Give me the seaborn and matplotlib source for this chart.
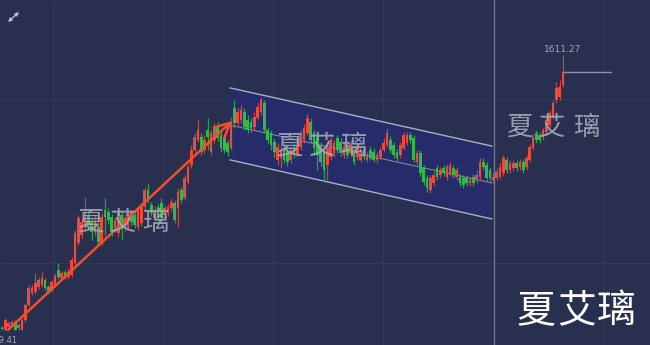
import matplotlib
matplotlib.use("Agg")
import matplotlib.pyplot as plt
import seaborn as sns
import numpy as np

# ---------------- data (price per candle) ----------------
opens = [1520.2, 1519.6, 1520.5, 1521.2, 1522.2, 1520.2, 1519.5, 1522.8, 1527.8, 1531.8,
         1532.2, 1533.8, 1534.5, 1536.2, 1533.8, 1532.8, 1534.5, 1539.5, 1536.8, 1538.8,
         1537.2, 1537.8, 1541.8, 1548.5, 1551.2, 1553.5, 1557.8, 1555.5, 1552.2, 1553.8,
         1548.5, 1559.5, 1558.8, 1557.2, 1553.5, 1551.8, 1557.8, 1553.5, 1553.8, 1558.5,
         1557.8, 1553.8, 1555.2, 1560.5, 1566.2, 1561.2, 1556.8, 1560.5, 1561.8, 1557.8,
         1558.5, 1560.2, 1561.8, 1560.2, 1566.2, 1563.5, 1568.8, 1574.5, 1579.5, 1582.8,
         1583.8, 1579.5, 1586.2, 1578.8, 1582.8, 1587.2, 1584.5, 1583.5, 1581.8, 1580.2,
         1593.5, 1588.5, 1589.5, 1592.2, 1589.5, 1588.8, 1587.2, 1590.2, 1592.2, 1595.2,
         1586.2, 1585.2, 1582.2, 1576.2, 1576.8, 1580.2, 1578.8, 1576.2, 1580.2, 1577.8,
         1580.5, 1582.8, 1585.2, 1588.8, 1585.2, 1583.5, 1581.2, 1578.8, 1574.5, 1577.2,
         1578.5, 1583.5, 1582.2, 1577.8, 1581.2, 1578.5, 1579.5, 1577.2, 1576.2, 1579.5,
         1576.2, 1579.5, 1578.8, 1576.2, 1577.2, 1579.5, 1581.2, 1582.8, 1581.2, 1578.8,
         1577.8, 1580.2, 1581.8, 1584.5, 1583.5, 1575.5, 1578.5, 1573.5, 1570.2, 1566.2,
         1568.5, 1573.5, 1571.2, 1573.5, 1570.5, 1571.8, 1573.5, 1570.5, 1570.5, 1570.2,
         1570.2, 1568.5, 1570.5, 1569.5, 1570.5, 1575.5, 1574.5, 1572.8, 1569.5, 1570.2,
         1570.5, 1571.8, 1576.2, 1572.8, 1573.5, 1575.2, 1573.8, 1575.5, 1573.8, 1576.2,
         1580.2, 1585.2, 1584.5, 1583.8, 1585.5, 1587.8, 1590.5, 1596.2, 1597.2, 1601.2]

closes = [1519.9, 1522.8, 1521.8, 1522.2, 1519.5, 1521.2, 1522.8, 1527.8, 1533.5, 1533.5,
          1535.2, 1536.2, 1536.8, 1533.5, 1532.2, 1535.5, 1537.5, 1537.2, 1538.5, 1537.2,
          1538.8, 1542.8, 1551.8, 1556.8, 1555.5, 1557.2, 1554.5, 1552.2, 1555.5, 1548.8,
          1557.2, 1557.2, 1556.2, 1552.2, 1556.2, 1558.5, 1553.5, 1556.8, 1557.8, 1555.5,
          1554.5, 1559.5, 1560.5, 1566.2, 1562.8, 1558.5, 1559.5, 1557.2, 1556.8, 1560.2,
          1560.5, 1562.2, 1556.2, 1565.5, 1562.8, 1570.2, 1573.8, 1579.5, 1583.8, 1586.2,
          1578.8, 1582.8, 1583.8, 1585.2, 1587.2, 1583.5, 1580.2, 1579.5, 1578.8, 1588.8,
          1588.5, 1592.2, 1592.8, 1587.2, 1586.2, 1586.8, 1590.5, 1593.8, 1596.2, 1586.2,
          1582.8, 1581.2, 1578.8, 1580.5, 1579.5, 1576.2, 1575.5, 1579.5, 1577.8, 1581.2,
          1584.5, 1586.8, 1590.2, 1582.8, 1580.2, 1577.8, 1575.5, 1572.8, 1580.2, 1582.8,
          1581.8, 1579.5, 1578.5, 1580.5, 1577.8, 1581.8, 1575.5, 1580.2, 1578.5, 1577.2,
          1577.8, 1576.8, 1576.2, 1577.8, 1579.5, 1581.8, 1585.2, 1579.5, 1577.8, 1576.8,
          1581.2, 1584.5, 1584.5, 1582.8, 1576.2, 1578.5, 1571.8, 1568.8, 1566.8, 1570.2,
          1571.2, 1570.5, 1572.8, 1571.8, 1573.8, 1574.5, 1571.2, 1572.8, 1568.5, 1567.8,
          1568.5, 1569.5, 1568.5, 1571.2, 1575.5, 1573.8, 1570.2, 1570.2, 1570.5, 1572.2,
          1573.8, 1576.8, 1572.8, 1575.2, 1575.2, 1573.5, 1575.5, 1572.8, 1576.8, 1580.5,
          1583.8, 1582.8, 1582.8, 1586.2, 1589.5, 1591.8, 1595.2, 1600.2, 1600.5, 1605.5]

highs = [1520.8, 1523.5, 1522.5, 1522.8, 1522.8, 1521.8, 1523.5, 1528.5, 1534.5, 1534.5,
         1538.5, 1537.2, 1538.8, 1536.8, 1534.5, 1536.2, 1538.5, 1541.8, 1539.2, 1539.5,
         1540.2, 1543.8, 1552.8, 1557.8, 1556.8, 1563.8, 1559.5, 1556.8, 1557.8, 1555.5,
         1558.5, 1563.5, 1560.2, 1558.2, 1557.2, 1559.5, 1558.8, 1558.2, 1558.8, 1559.5,
         1558.8, 1560.5, 1561.8, 1567.2, 1568.5, 1562.2, 1560.8, 1561.5, 1563.5, 1561.2,
         1561.5, 1563.5, 1562.8, 1566.8, 1567.2, 1571.2, 1574.8, 1581.2, 1585.2, 1589.5,
         1585.2, 1584.5, 1590.2, 1586.2, 1588.5, 1588.8, 1586.2, 1584.5, 1582.8, 1590.5,
         1596.2, 1593.5, 1594.5, 1593.5, 1591.2, 1590.2, 1592.2, 1595.2, 1597.2, 1596.2,
         1587.2, 1586.2, 1583.5, 1581.8, 1580.8, 1581.5, 1580.2, 1580.5, 1581.5, 1582.5,
         1586.2, 1588.2, 1591.5, 1590.2, 1586.2, 1584.5, 1582.2, 1580.2, 1581.2, 1583.8,
         1582.8, 1584.5, 1583.5, 1581.8, 1582.2, 1582.8, 1580.8, 1581.2, 1579.5, 1580.5,
         1578.8, 1580.8, 1580.2, 1578.8, 1580.5, 1583.5, 1586.8, 1584.2, 1582.2, 1579.8,
         1582.2, 1585.5, 1585.5, 1585.5, 1584.5, 1579.5, 1579.5, 1574.5, 1571.2, 1571.2,
         1572.2, 1574.5, 1573.8, 1574.5, 1574.8, 1575.5, 1574.5, 1573.8, 1571.5, 1571.2,
         1571.2, 1570.5, 1571.5, 1572.8, 1576.8, 1576.8, 1575.5, 1573.8, 1571.8, 1573.5,
         1575.2, 1577.8, 1577.2, 1576.2, 1576.2, 1576.2, 1576.5, 1576.5, 1577.8, 1581.5,
         1584.8, 1586.2, 1585.5, 1587.2, 1590.5, 1592.8, 1596.2, 1602.2, 1602.8, 1611.27]

lows = [1519.6, 1519.41, 1519.8, 1520.5, 1519.5, 1519.5, 1519.5, 1522.2, 1527.2, 1531.2,
        1531.5, 1533.2, 1533.8, 1532.8, 1531.5, 1532.2, 1533.8, 1536.5, 1536.2, 1536.5,
        1536.5, 1537.2, 1541.2, 1547.8, 1550.2, 1552.5, 1552.8, 1549.5, 1550.8, 1547.8,
        1547.8, 1551.2, 1554.8, 1550.8, 1552.2, 1550.5, 1549.5, 1552.5, 1553.2, 1554.2,
        1553.5, 1552.8, 1554.2, 1559.5, 1561.8, 1557.5, 1556.2, 1556.2, 1555.5, 1556.8,
        1557.5, 1559.2, 1555.2, 1553.8, 1561.8, 1562.8, 1568.2, 1573.5, 1578.5, 1582.2,
        1577.8, 1578.5, 1579.5, 1577.8, 1581.8, 1582.5, 1578.8, 1578.5, 1577.5, 1579.5,
        1586.8, 1587.5, 1588.5, 1586.2, 1585.2, 1585.5, 1586.2, 1589.5, 1591.2, 1585.2,
        1581.8, 1579.5, 1577.2, 1574.5, 1573.5, 1575.2, 1574.2, 1575.2, 1576.8, 1577.2,
        1579.5, 1581.8, 1584.5, 1581.8, 1577.8, 1572.8, 1574.2, 1569.5, 1569.5, 1576.2,
        1577.2, 1578.5, 1577.5, 1576.8, 1576.8, 1577.5, 1574.5, 1576.2, 1575.5, 1576.2,
        1575.5, 1576.2, 1575.5, 1575.2, 1576.5, 1578.8, 1580.5, 1578.5, 1576.8, 1575.8,
        1576.8, 1579.5, 1581.2, 1581.8, 1575.5, 1574.5, 1570.8, 1567.8, 1565.5, 1565.2,
        1567.5, 1569.5, 1570.2, 1570.8, 1569.5, 1570.8, 1570.2, 1569.5, 1567.5, 1566.8,
        1567.5, 1567.5, 1567.5, 1568.5, 1569.5, 1572.8, 1569.2, 1569.2, 1568.5, 1569.5,
        1569.8, 1570.8, 1571.8, 1571.8, 1572.5, 1572.5, 1572.8, 1571.8, 1572.8, 1575.5,
        1579.5, 1581.8, 1581.8, 1582.8, 1584.5, 1587.2, 1589.8, 1595.2, 1596.2, 1600.5]

high_label = "1611.27"
low_label = "1519.41"
watermark = ["夏", "艾", "璃"]

# annotation geometry in data units (candle index, price)
channel_x = [68.7, 147.6]
channel_top = [1600.2, 1580.8]
channel_mid = [1587.8, 1568.5]
channel_bot = [1576.2, 1556.5]
arrow_start = (1.8, 1519.5)
arrow_end = (69.3, 1589.2)
cursor_x = 148.2
close_line_end = 183.4

# ---------------- style ----------------
BG = "#282f4f"
CH = "#262c69"
RED = "#ec4a3c"
GREEN = "#2fba4a"
ARROW = "#f0502e"

sns.set_style("dark", rc={"axes.facecolor": BG, "figure.facecolor": BG})
plt.rcParams["font.family"] = ["Noto Sans CJK SC", "DejaVu Sans"]

fig = plt.figure(figsize=(6.5, 3.45), dpi=100)
ax = fig.add_axes([0, 0, 1, 1])
ax.set_facecolor(BG)
ax.set_xlim(-0.6, 195.2)
ax.set_ylim(1514.5, 1629.5)
ax.set_axis_off()

o = np.array(opens); c = np.array(closes); h = np.array(highs); l = np.array(lows)
x = np.arange(len(o))

# faint grid
for gx in [15.4, 48.5, 81.6, 114.8, 181.0]:
    ax.axvline(gx, color="#313958", lw=0.8, zorder=0)
for gy in [1596.5, 1541.8]:
    ax.axhline(gy, color="#313958", lw=0.8, zorder=0)

# channel
ax.fill([channel_x[0], channel_x[1], channel_x[1], channel_x[0]],
        [channel_top[0], channel_top[1], channel_bot[1], channel_bot[0]],
        color=CH, zorder=1, lw=0)
ax.plot(channel_x, channel_top, color="#aab0c6", lw=1.0, zorder=2)
ax.plot(channel_x, channel_bot, color="#aab0c6", lw=1.0, zorder=2)
ax.plot(channel_x, channel_mid, color="#8a90a8", lw=0.7, zorder=2)

# cursor line
ax.axvline(cursor_x, color="#6f7592", lw=1.0, zorder=2)

# candles
up = c >= o
colors = np.where(up, RED, GREEN)
ax.vlines(x, l, h, colors=colors, lw=0.9, zorder=3, alpha=0.8)
body_bottom = np.minimum(o, c)
body_h = np.maximum(np.abs(c - o), 0.5)
ax.bar(x, body_h, bottom=body_bottom, width=0.8, color=colors, lw=0, zorder=4)

# close price line and labels
ax.plot([x[-1], close_line_end], [closes[-1], closes[-1]], color="#8d92aa", lw=1.0, zorder=3)
ax.text(x[-1], highs[-1] + 0.3, high_label, ha="center", va="bottom",
        fontsize=6.5, color="#a3a7b8", family="DejaVu Sans", zorder=6)
ax.text(4.5, min(lows) - 1.8, low_label, ha="right", va="top",
        fontsize=6, color="#a3a7b8", family="DejaVu Sans", zorder=6)

# trend arrow
ax.annotate("", xy=arrow_end, xytext=arrow_start,
            arrowprops=dict(arrowstyle="->,head_length=0.9,head_width=0.45",
                            color=ARROW, lw=1.8, mutation_scale=12,
                            shrinkA=0, shrinkB=0), zorder=5)

# top-left icon
ax.annotate("", xy=(19 / 650, 1 - 12 / 345), xytext=(8 / 650, 1 - 22 / 345),
            xycoords="figure fraction", textcoords="figure fraction",
            arrowprops=dict(arrowstyle="<|-|>", color="#b8bccb", lw=1.0,
                            mutation_scale=5, shrinkA=0, shrinkB=0))

# watermarks
def wm(xs, y, size, color, alpha):
    for ch, xx in zip(watermark, xs):
        fig.text(xx / 650, 1 - y / 345, ch, ha="center", va="center",
                 fontsize=size, color=color, alpha=alpha, zorder=10,
                 family=["Noto Sans CJK SC", "DejaVu Sans"], fontweight="light")

wm([90, 123, 155], 222, 19, "#a6a9b8", 0.9)
wm([289, 322, 353], 146, 19, "#a6a9b8", 0.9)
wm([519, 552, 586], 127, 19, "#a6a9b8", 0.9)
wm([536, 577, 616], 311, 28, "#ffffff", 1.0)

fig.savefig("out.png", dpi=100, facecolor=BG)
